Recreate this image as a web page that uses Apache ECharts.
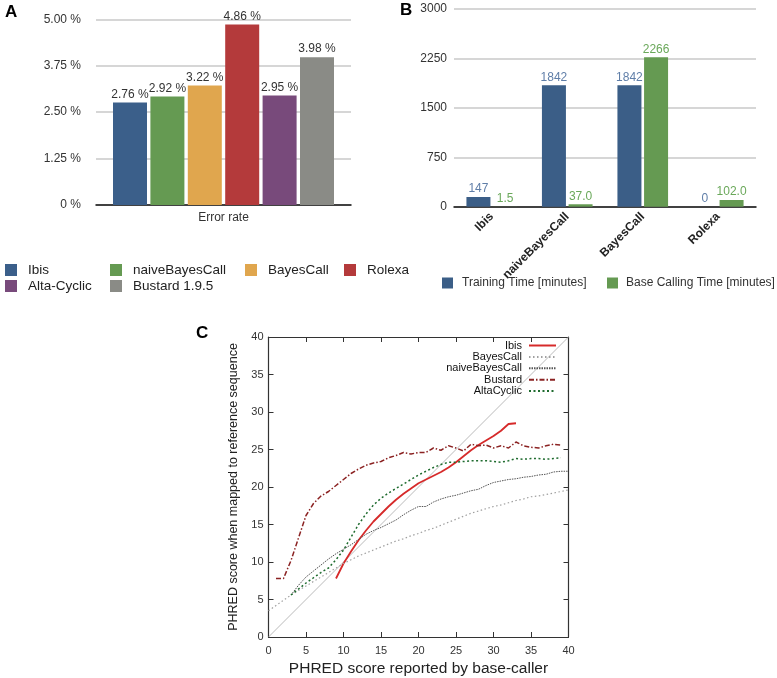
<!DOCTYPE html>
<html><head><meta charset="utf-8">
<script src="https://cdn.jsdelivr.net/npm/echarts@6/dist/echarts.min.js"></script>
<style>html,body{margin:0;padding:0;background:#fff}#main{width:777px;height:678px}</style>
</head><body><div id="main"></div>
<script>
// ---------- Panel A data ----------
const errorCategories = ['Error rate'];
const errorNames = ['Ibis', 'naiveBayesCall', 'BayesCall', 'Rolexa', 'Alta-Cyclic', 'Bustard 1.9.5'];
const errorRates = [2.76, 2.92, 3.22, 4.86, 2.95, 3.98];
const errorTicks = [0, 1.25, 2.5, 3.75, 5];

// ---------- Panel B data ----------
const timeCategories = ['Ibis', 'naiveBayesCall', 'BayesCall', 'Rolexa'];
const trainingTime = [147, 1842, 1842, 0];
const baseCallingTime = [1.5, 37.0, 2266, 102.0];
const timeTicks = [0, 750, 1500, 2250, 3000];

// ---------- Panel C data ----------
const phredReported = [0,1,2,3,4,5,6,7,8,9,10,11,12,13,14,15,16,17,18,19,20,21,22,23,24,25,26,27,28,29,30,31,32,33,34,35,36,37,38,39,40];
const ibisMapped = [null,null,null,null,null,null,null,null,null,7.8,9.8,11.4,12.9,14.2,15.4,16.4,17.4,18.3,19.1,19.8,20.5,21.0,21.5,22.0,22.6,23.3,24.1,24.9,25.6,26.2,26.8,27.5,28.4,28.5,null,null,null,null,null,null,null];
const bayesCallMapped = [3.5,4.2,4.9,5.6,6.2,6.8,7.4,8.0,8.6,9.2,9.8,10.3,10.8,11.2,11.6,12.0,12.4,12.8,13.1,13.5,13.8,14.2,14.5,14.9,15.3,15.7,16.1,16.5,16.8,17.1,17.4,17.6,17.9,18.2,18.4,18.7,18.8,19.0,19.2,19.4,19.6];
const naiveBayesCallMapped = [null,null,null,5.6,6.9,8.0,8.8,9.6,10.4,11.1,11.7,12.3,13.0,13.7,14.2,14.6,15.1,15.6,16.3,16.9,17.4,17.4,18.0,18.4,18.7,18.9,19.2,19.5,19.7,20.2,20.6,20.8,21.0,21.1,21.3,21.4,21.6,21.7,22.0,22.1,22.1];
const bustardMapped = [null,7.8,7.8,10.2,13.2,16.2,17.8,18.8,19.4,20.2,21.0,21.8,22.4,22.9,23.2,23.4,23.9,24.2,24.6,24.4,24.6,24.6,25.2,24.9,25.5,25.2,24.8,25.7,25.5,25.6,25.2,25.5,25.2,26.0,25.5,25.3,25.2,25.5,25.7,25.6,null];
const altaCyclicMapped = [null,null,null,5.6,6.4,7.2,7.9,8.6,9.2,10.3,11.6,13.3,15.0,16.4,17.6,18.5,19.2,19.8,20.4,21.0,21.6,22.1,22.6,23.0,23.3,23.3,23.4,23.5,23.5,23.5,23.4,23.3,23.5,23.8,23.7,23.8,23.8,23.7,23.8,23.9,null];
const curveNames = ['Ibis', 'BayesCall', 'naiveBayesCall', 'Bustard', 'AltaCyclic'];
const diagonalRef = [0, 40];
const phredTicks = [0,5,10,15,20,25,30,35,40];

// ---------- styling ----------
const errorColors = ['#3b5f8a', '#659a52', '#e0a64e', '#b43a3b', '#784a7b', '#8a8b86'];
const FONT = 'Liberation Sans, Arial, Helvetica, sans-serif';
const CP = 'C:'; // internal prefix to keep panel C legend separate from panel A

function pairs(arr) {
  return phredReported.map((x, i) => arr[i] == null ? null : [x, arr[i]]).filter(Boolean);
}

const chart = echarts.init(document.getElementById('main'), null, {renderer: 'canvas'});

const seriesA = errorNames.map((n, i) => ({
  type: 'bar', name: n, xAxisIndex: 0, yAxisIndex: 0,
  data: [errorRates[i]], barWidth: 34, barGap: '10%',
  itemStyle: {color: errorColors[i]},
  label: {show: true, position: 'top', distance: 2, fontSize: 12, color: '#333',
    formatter: p => p.value.toFixed(2) + ' %'}
}));

const seriesB = [
  {type: 'bar', name: 'Training Time [minutes]', xAxisIndex: 1, yAxisIndex: 1, data: trainingTime,
   barWidth: 24, barGap: '11%', itemStyle: {color: '#3b5e87'},
   label: {show: true, position: 'top', distance: 2, fontSize: 12, color: '#5f7ea8'}},
  {type: 'bar', name: 'Base Calling Time [minutes]', xAxisIndex: 1, yAxisIndex: 1, data: baseCallingTime,
   barWidth: 24, barGap: '11%', itemStyle: {color: '#659a52'},
   label: {show: true, position: 'top', distance: 2, fontSize: 12, color: '#6aa85a',
     formatter: p => p.value >= 1000 ? String(p.value) : p.value.toFixed(1)}}
];

const curveData = [ibisMapped, bayesCallMapped, naiveBayesCallMapped, bustardMapped, altaCyclicMapped];
const curveStyles = [
  {color: '#d62a2a', width: 1.8, type: 'solid'},
  {color: '#a0a0a0', width: 1.2, type: [1.5, 2.5]},
  {color: '#555555', width: 1, type: [1.5, 1]},
  {color: '#8b2222', width: 1.5, type: [5, 2, 1.5, 2]},
  {color: '#1e6b2e', width: 1.5, type: [2, 2.5]}
];
const seriesC = [
  {type: 'line', name: 'diagonal', xAxisIndex: 2, yAxisIndex: 2, symbol: 'none', silent: true, z: 1,
   data: diagonalRef.map(v => [v, v]), lineStyle: {color: '#a8a8a8', width: 0.8}}
].concat(curveNames.map((n, i) => ({
  type: 'line', name: CP + n, xAxisIndex: 2, yAxisIndex: 2, symbol: 'none',
  data: pairs(curveData[i]), lineStyle: curveStyles[i], itemStyle: {color: curveStyles[i].color}
})));

const legA = (left, names) => ({
  left: left, top: 262, orient: 'vertical', padding: 0, itemGap: 0,
  data: names, icon: 'rect', itemWidth: 12, itemHeight: 12, selectedMode: false,
  textStyle: {fontSize: 13.5, color: '#222', lineHeight: 16, padding: [0, 0, 0, 6], fontFamily: FONT}
});
const legB = (left, name, pad) => ({
  left: left, top: 277, orient: 'horizontal', padding: 0,
  data: [name], icon: 'rect', itemWidth: 11, itemHeight: 11, selectedMode: false,
  textStyle: {fontSize: 12, color: '#333', padding: [0, 0, 0, pad]}
});

const option = {
  animation: false,
  backgroundColor: '#fff',
  textStyle: {fontFamily: FONT},
  grid: [
    {left: 96, top: 19.3, width: 255, height: 185.7, containLabel: false, outerBoundsMode: 'none'},
    {left: 454, top: 9, width: 302, height: 197.7, containLabel: false, outerBoundsMode: 'none'},
    {left: 268.5, top: 337, width: 300, height: 300, containLabel: false, outerBoundsMode: 'none'}
  ],
  xAxis: [
    {type: 'category', gridIndex: 0, data: errorCategories,
     axisLine: {lineStyle: {color: '#111', width: 1.5}}, axisTick: {show: false},
     axisLabel: {fontSize: 12, color: '#333', margin: 7}},
    {type: 'category', gridIndex: 1, data: timeCategories,
     axisLine: {lineStyle: {color: '#111', width: 1.5}}, axisTick: {show: false},
     axisLabel: {fontSize: 12, color: '#222', fontWeight: 'bold', rotate: 45, margin: 8, interval: 0}},
    {type: 'value', gridIndex: 2, min: 0, max: 40, interval: 5, position: 'bottom',
     axisLine: {onZero: false, lineStyle: {color: '#333', width: 1.2}},
     axisTick: {inside: true, length: 5, lineStyle: {color: '#333'}},
     axisLabel: {fontSize: 11, color: '#333', margin: 8},
     splitLine: {show: false},
     name: 'PHRED score reported by base-caller', nameLocation: 'middle', nameGap: 24,
     nameTextStyle: {fontSize: 15.5, color: '#222'}},
    {type: 'value', gridIndex: 2, min: 0, max: 40, interval: 5, position: 'top',
     axisLine: {onZero: false, lineStyle: {color: '#333', width: 1.2}},
     axisTick: {inside: true, length: 5, lineStyle: {color: '#333'}},
     axisLabel: {show: false}, splitLine: {show: false}}
  ],
  yAxis: [
    {type: 'value', gridIndex: 0, min: 0, max: 5, interval: 1.25,
     axisLine: {show: false}, axisTick: {show: false},
     splitLine: {lineStyle: {color: '#c8c8c8', width: 1.5}},
     axisLabel: {fontSize: 12, color: '#333', margin: 15,
       formatter: v => v === 0 ? '0 %' : v.toFixed(2) + ' %'}},
    {type: 'value', gridIndex: 1, min: 0, max: 3000, interval: 750,
     axisLine: {show: false}, axisTick: {show: false},
     splitLine: {lineStyle: {color: '#c8c8c8', width: 1.5}},
     axisLabel: {fontSize: 12, color: '#333', margin: 7, formatter: v => String(v)}},
    {type: 'value', gridIndex: 2, min: 0, max: 40, interval: 5, position: 'left',
     axisLine: {onZero: false, lineStyle: {color: '#333', width: 1.2}},
     axisTick: {inside: true, length: 5, lineStyle: {color: '#333'}},
     axisLabel: {fontSize: 11, color: '#333', margin: 5},
     splitLine: {show: false},
     name: 'PHRED score when mapped to reference sequence', nameLocation: 'middle', nameGap: 28,
     nameTextStyle: {fontSize: 12.5, color: '#222'}},
    {type: 'value', gridIndex: 2, min: 0, max: 40, interval: 5, position: 'right',
     axisLine: {onZero: false, lineStyle: {color: '#333', width: 1.2}},
     axisTick: {inside: true, length: 5, lineStyle: {color: '#333'}},
     axisLabel: {show: false}, splitLine: {show: false}}
  ],
  legend: [
    legA(5, ['Ibis', 'Alta-Cyclic']),
    legA(110, ['naiveBayesCall', 'Bustard 1.9.5']),
    legA(245, ['BayesCall']),
    legA(344, ['Rolexa']),
    legB(442, 'Training Time [minutes]', 4),
    legB(607, 'Base Calling Time [minutes]', 3),
    {right: 220, top: 340, orient: 'vertical', align: 'right', padding: 0, itemGap: 0.4,
     data: curveNames.map(n => CP + n), formatter: n => n.slice(CP.length),
     itemWidth: 27, itemHeight: 9, selectedMode: false,
     itemStyle: {opacity: 0},
     textStyle: {fontSize: 11, color: '#111', lineHeight: 9, padding: [0, 2, 0, 0]}}
  ],
  graphic: [
    {type: 'text', left: 5, top: 4, style: {text: 'A', fontSize: 17, fontWeight: 'bold', fill: '#000', fontFamily: FONT}},
    {type: 'text', left: 400, top: 2, style: {text: 'B', fontSize: 17, fontWeight: 'bold', fill: '#000', fontFamily: FONT}},
    {type: 'text', left: 196, top: 325, style: {text: 'C', fontSize: 17, fontWeight: 'bold', fill: '#000', fontFamily: FONT}}
  ],
  series: [...seriesA, ...seriesB, ...seriesC]
};
chart.setOption(option);
</script>
</body></html>
